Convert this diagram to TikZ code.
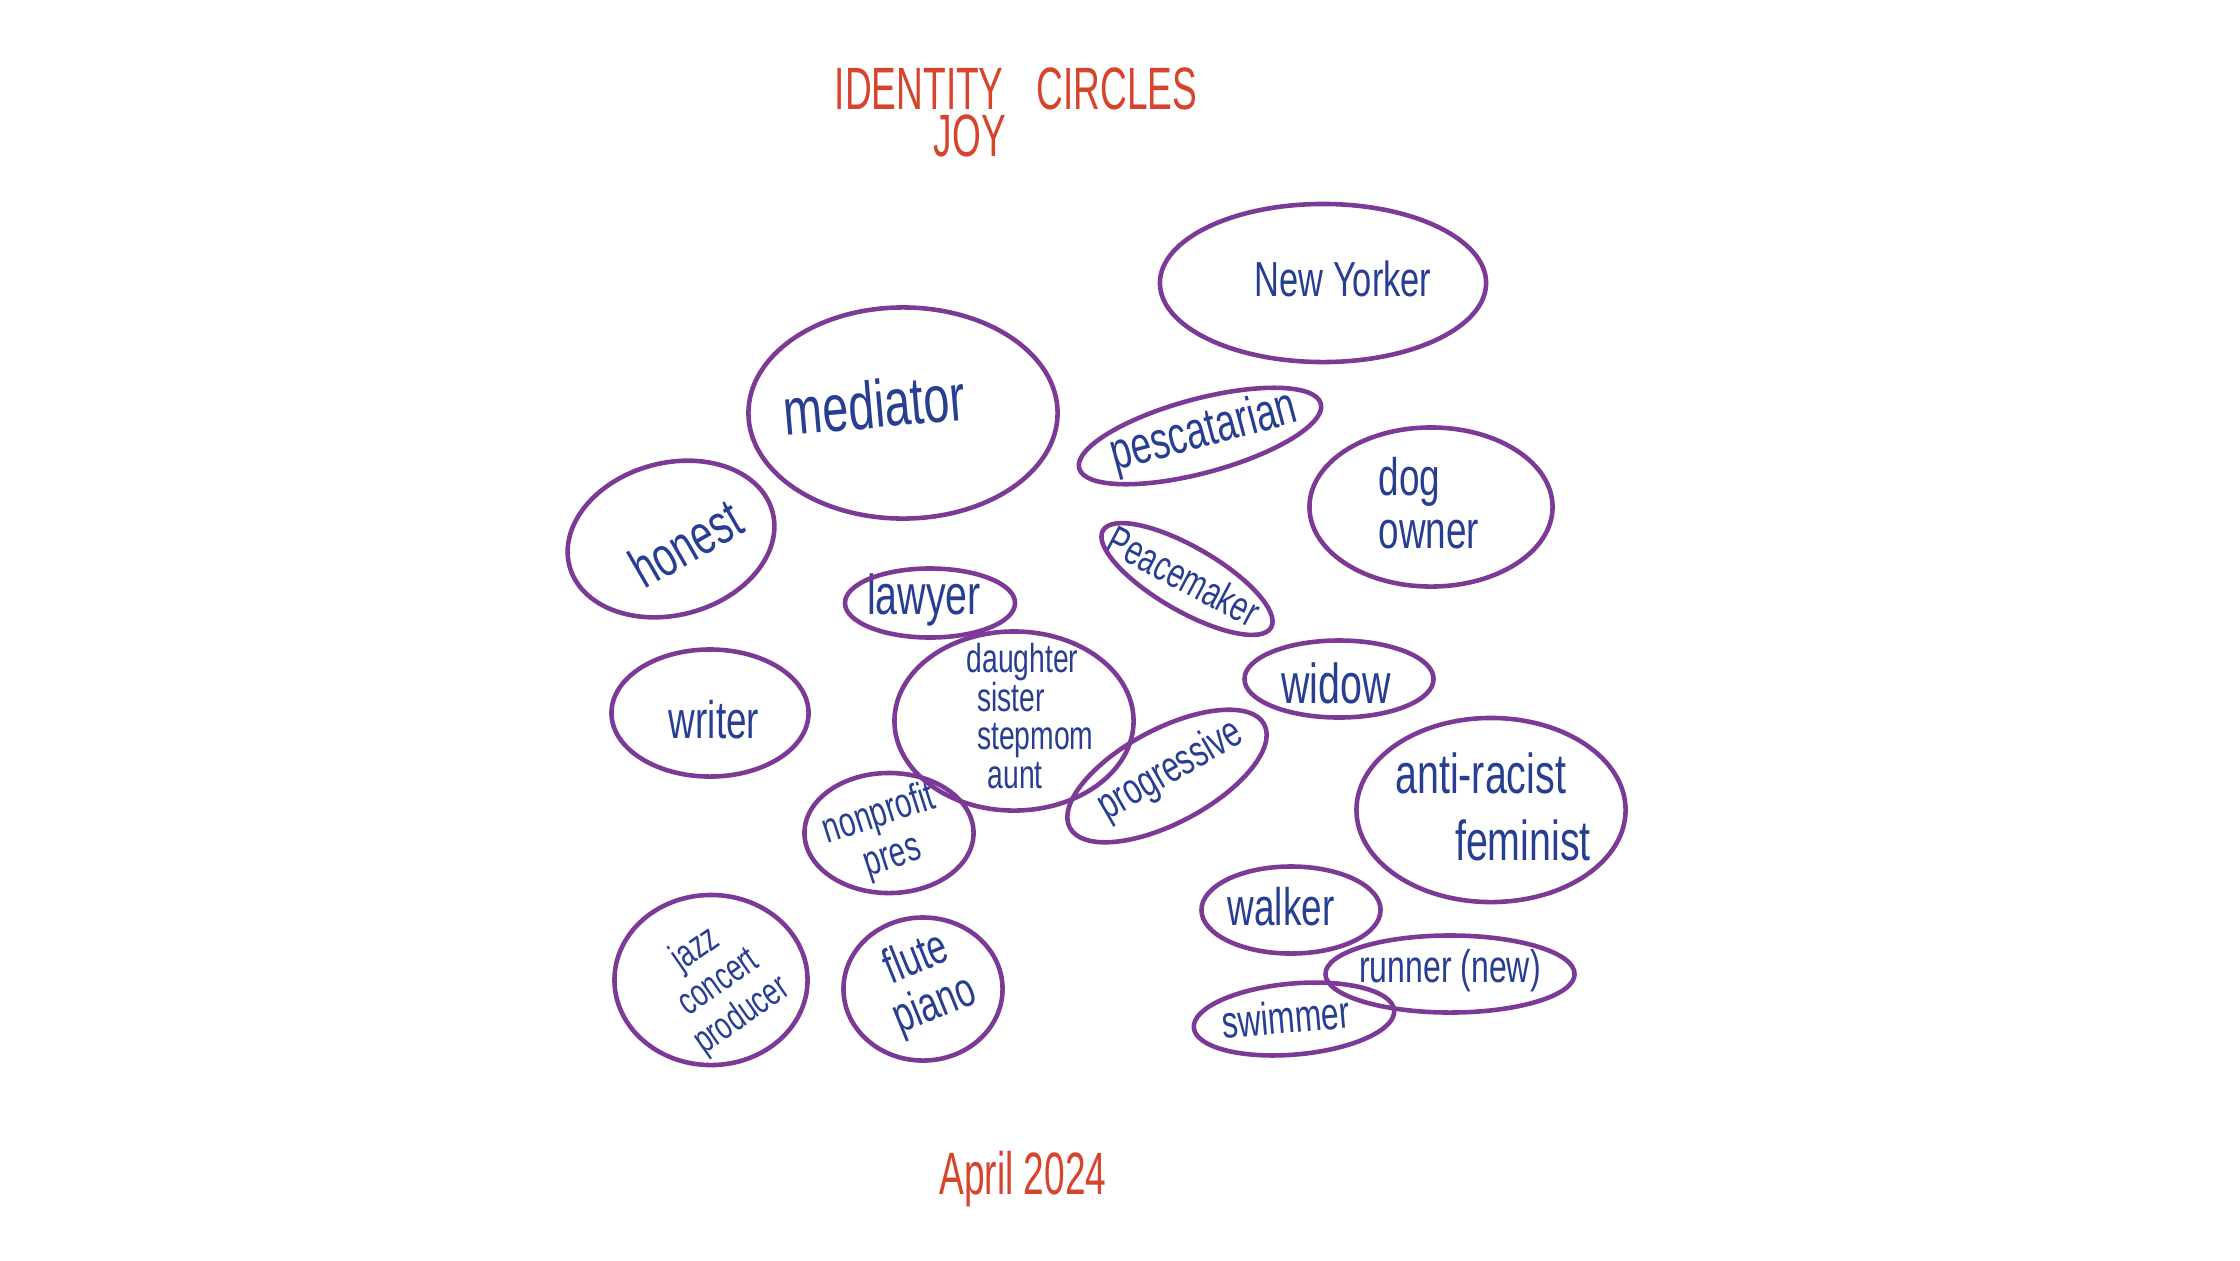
\documentclass[tikz,border=0pt]{standalone}
\usepackage{fontspec}
\newfontfamily\handfont[FakeStretch=0.7]{Liberation Sans}
\newfontfamily\titlefont[FakeStretch=0.62]{Liberation Sans}
\newcommand\hw[2]{\handfont\fontsize{#1}{#2}\selectfont}
\definecolor{ringpurple}{RGB}{124,58,150}
\definecolor{inkblue}{RGB}{40,62,145}
\definecolor{inkred}{RGB}{214,68,44}
\tikzset{
	ring/.style={draw=ringpurple, line width=1.3pt},
	word/.style={text=inkblue, inner sep=0pt},
	heading/.style={text=inkred, inner sep=0pt, font=\titlefont\fontsize{17}{20}\selectfont},
}
\begin{document}
\begin{tikzpicture}[x=0.01cm, y=-0.01cm]
		\fill[white] (0,0) rectangle (2240,1260);
		\useasboundingbox (0,0) rectangle (2240,1260);
		
		% Title and date
		\node[heading] (title) at (1016,89) {IDENTITY\hspace{0.55em}CIRCLES};
		\node[heading] (joy) at (970,136) {JOY};
		\node[heading] (date) at (1023,1179) {April 2024};
		
		% Words
		\node[word, font=\hw{14}{16}] (newyorker) at (1343,279) {New Yorker};
		\node[word, font=\hw{19}{22}, rotate=5] (mediator) at (874,404) {mediator};
		\node[word, font=\hw{15}{17}, rotate=15] (pescatarian) at (1204,433) {pescatarian};
		\node[word, font=\hw{15}{15}, align=left] (dogowner) at (1429,503) {dog\\owner};
		\node[word, font=\hw{16}{18}, rotate=30] (honest) at (686,543) {honest};
		\node[word, font=\hw{16}{18}] (lawyer) at (924,600) {lawyer};
		\node[word, font=\hw{12}{14}, rotate=-28] (peacemaker) at (1184,576) {Peacemaker};
		\node[word, font=\hw{15}{17}] (writer) at (714,720) {writer};
		\node[word, font=\hw{11.5}{11}, align=left] (family) at (1030,716) {daughter\\\hspace*{3pt}sister\\\hspace*{3pt}stepmom\\\hspace*{6pt}aunt};
		\node[word, font=\hw{16}{18}] (widow) at (1336,683) {widow};
		\node[word, font=\hw{12.5}{14}, rotate=30] (progressive) at (1171,771) {progressive};
		\node[word, font=\hw{16}{19}, align=left] (antiracist) at (1493,807) {anti-racist\\\hspace*{17pt}feminist};
		\node[word, font=\hw{12}{12.5}, align=center, rotate=18] (nonprofit) at (886,836) {nonprofit\\pres};
		\node[word, font=\hw{15}{17}] (walker) at (1281,907) {walker};
		\node[word, font=\hw{13}{15}] (runner) at (1450,971) {runner (new)};
		\node[word, font=\hw{13}{15}, rotate=5] (swimmer) at (1286,1017) {swimmer};
		\node[word, font=\hw{11}{11.5}, align=center, rotate=35] (jazz) at (719,983) {jazz\\concert\\producer};
		\node[word, font=\hw{14}{14}, align=center, rotate=22] (flute) at (926,983) {flute\\piano};
		
		% Circles
		\draw[ring] (1323,283) ellipse (1.63cm and 0.79cm);
		\draw[ring] (903,413) ellipse (1.545cm and 1.055cm);
		\draw[ring, rotate around={15:(1200,436)}] (1200,436) ellipse (1.25cm and 0.37cm);
		\draw[ring] (1431,507) ellipse (1.215cm and 0.795cm);
		\draw[ring, rotate around={15:(671,539)}] (671,539) ellipse (1.05cm and 0.76cm);
		\draw[ring] (930,603) ellipse (0.85cm and 0.345cm);
		\draw[ring, rotate around={-30:(1187,579)}] (1187,579) ellipse (0.97cm and 0.32cm);
		\draw[ring] (710,713) ellipse (0.985cm and 0.635cm);
		\draw[ring] (1014,721) ellipse (1.195cm and 0.895cm);
		\draw[ring] (1339,679) ellipse (0.945cm and 0.385cm);
		\draw[ring, rotate around={28:(1167,776)}] (1167,776) ellipse (1.10cm and 0.47cm);
		\draw[ring] (1491,810) ellipse (1.345cm and 0.92cm);
		\draw[ring] (889,833) ellipse (0.845cm and 0.60cm);
		\draw[ring] (1291,910) ellipse (0.895cm and 0.435cm);
		\draw[ring] (1450,974) ellipse (1.245cm and 0.385cm);
		\draw[ring, rotate around={5:(1294,1019)}] (1294,1019) ellipse (1.005cm and 0.355cm);
		\draw[ring] (711,980) ellipse (0.965cm and 0.85cm);
		\draw[ring] (923,989) ellipse (0.795cm and 0.715cm);
		
\end{tikzpicture}
\end{document}
